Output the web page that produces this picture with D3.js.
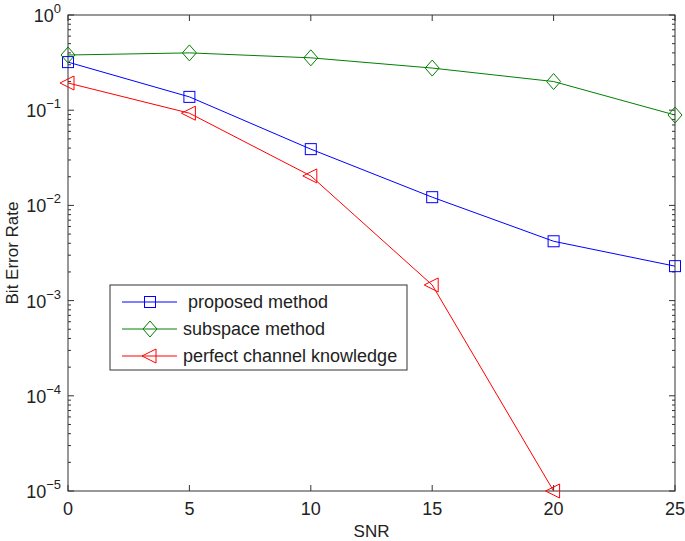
<!DOCTYPE html>
<html><head><meta charset="utf-8">
<script src="https://cdn.jsdelivr.net/npm/d3@7"></script>
<style>
body{margin:0;background:#fff;}
text{font-family:"Liberation Sans",Arial,Helvetica,sans-serif;fill:#222;}
</style></head>
<body><svg id="c" width="685" height="541"></svg>
<script>
const snr = [0, 5, 10, 15, 20, 25];
const proposed = [0.32, 0.138, 0.039, 0.0122, 0.0042, 0.0023];
const subspace = [0.38, 0.40, 0.355, 0.277, 0.20, 0.089];
const perfect = [0.193, 0.093, 0.0204, 0.00146, 0.00001];
const perfectSnr = [0, 5, 10, 15, 20];
const xTicks = [0, 5, 10, 15, 20, 25];
const yExps = [0, -1, -2, -3, -4, -5];
const seriesNames = [" proposed method", "subspace method", "perfect channel knowledge"];

const svg = d3.select("#c");
const L = 68, R = 675, T = 15, B = 491;
const x = d3.scaleLinear().domain([0, 25]).range([L, R]);
const y = d3.scaleLog().domain([1e-5, 1]).range([B, T]);
const axisColor = "#333";

svg.append("rect").attr("x", L).attr("y", T).attr("width", R - L).attr("height", B - T)
  .attr("fill", "none").attr("stroke", axisColor).attr("stroke-width", 1);

const g = svg.append("g").attr("stroke", axisColor).attr("stroke-width", 1);
xTicks.forEach(t => {
  g.append("line").attr("x1", x(t)).attr("x2", x(t)).attr("y1", B).attr("y2", B - 6);
  g.append("line").attr("x1", x(t)).attr("x2", x(t)).attr("y1", T).attr("y2", T + 6);
});
for (let e = -5; e <= 0; e++) {
  const v = Math.pow(10, e);
  g.append("line").attr("x1", L).attr("x2", L + 6).attr("y1", y(v)).attr("y2", y(v));
  g.append("line").attr("x1", R).attr("x2", R - 6).attr("y1", y(v)).attr("y2", y(v));
  if (e < 0) {
    for (let m = 2; m <= 9; m++) {
      const mv = m * v;
      g.append("line").attr("x1", L).attr("x2", L + 3).attr("y1", y(mv)).attr("y2", y(mv));
      g.append("line").attr("x1", R).attr("x2", R - 3).attr("y1", y(mv)).attr("y2", y(mv));
    }
  }
}

xTicks.forEach(t => {
  svg.append("text").attr("x", x(t)).attr("y", B + 24).attr("text-anchor", "middle")
    .attr("font-size", 18).text(t);
});
yExps.forEach(e => {
  const tx = svg.append("text").attr("x", 61).attr("y", y(Math.pow(10, e)) + 7)
    .attr("text-anchor", "end").attr("font-size", 18);
  tx.append("tspan").text("10");
  tx.append("tspan").attr("dy", -9).attr("font-size", 13).text(e === 0 ? "0" : "\u2212" + Math.abs(e));
});

svg.append("text").attr("x", (L + R) / 2).attr("y", 537).attr("text-anchor", "middle")
  .attr("font-size", 17).text("SNR");
svg.append("text").attr("transform", `translate(18,${(T + B) / 2}) rotate(-90)`)
  .attr("text-anchor", "middle").attr("font-size", 17).text("Bit Error Rate");

function marker(sel, type, cx, cy, color) {
  if (type === "square") {
    sel.append("rect").attr("x", cx - 5.5).attr("y", cy - 5.5).attr("width", 11).attr("height", 11)
      .attr("fill", "none").attr("stroke", color).attr("stroke-width", 1);
  } else if (type === "diamond") {
    sel.append("path").attr("d", `M${cx},${cy - 8}L${cx + 7},${cy}L${cx},${cy + 8}L${cx - 7},${cy}Z`)
      .attr("fill", "none").attr("stroke", color).attr("stroke-width", 1);
  } else {
    sel.append("path").attr("d", `M${cx - 8},${cy}L${cx + 6},${cy - 7}L${cx + 6},${cy + 7}Z`)
      .attr("fill", "none").attr("stroke", color).attr("stroke-width", 1);
  }
}

const series = [
  {xs: snr, ys: proposed, color: "#0000ff", m: "square"},
  {xs: snr, ys: subspace, color: "#008000", m: "diamond"},
  {xs: perfectSnr, ys: perfect, color: "#ff0000", m: "triangle"}
];
const line = d3.line().x(d => x(d[0])).y(d => y(d[1]));
series.forEach(s => {
  const pts = s.xs.map((v, i) => [v, s.ys[i]]);
  svg.append("path").attr("d", line(pts)).attr("fill", "none").attr("stroke", s.color).attr("stroke-width", 1);
  const mg = svg.append("g");
  pts.forEach(p => marker(mg, s.m, x(p[0]), y(p[1]), s.color));
});

const lx = 110, ly = 285, lw = 297, lh = 85;
svg.append("rect").attr("x", lx).attr("y", ly).attr("width", lw).attr("height", lh)
  .attr("fill", "#fff").attr("stroke", axisColor).attr("stroke-width", 1);
const rowY = [302, 329, 356];
series.forEach((s, i) => {
  const lg = svg.append("g");
  lg.append("line").attr("x1", 122).attr("x2", 177).attr("y1", rowY[i]).attr("y2", rowY[i])
    .attr("stroke", s.color).attr("stroke-width", 1);
  marker(lg, s.m, 150, rowY[i], s.color);
  svg.append("text").attr("x", 183).attr("y", rowY[i] + 6).attr("font-size", 18)
    .attr("xml:space", "preserve").style("white-space", "pre").text(seriesNames[i]);
});
</script></body></html>
